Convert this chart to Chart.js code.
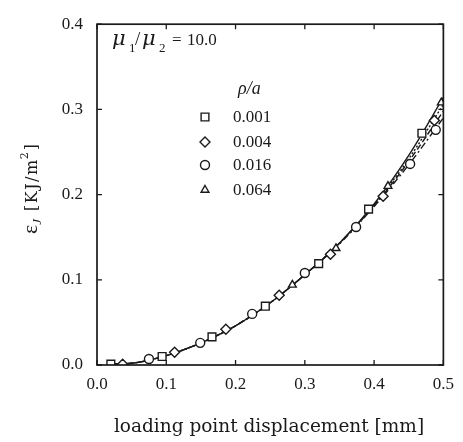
<!DOCTYPE html>
<html>
<head>
<meta charset="utf-8">
<script src="https://cdn.jsdelivr.net/npm/chart.js@4.4.0/dist/chart.umd.min.js"></script>
<style>
  body { margin: 0; background: #fff; }
  #wrap { width: 463px; height: 442px; }
</style>
</head>
<body>
<div id="wrap"><canvas id="myChart" width="463" height="442"></canvas></div>
<script>
// values
const ratioLabels = ['0.001', '0.004', '0.016', '0.064'];

const sqX = [0.020, 0.094, 0.166, 0.243, 0.320, 0.392, 0.469];
const sqY = [0.001, 0.010, 0.033, 0.069, 0.119, 0.183, 0.272];

const diaX = [0.037, 0.112, 0.186, 0.263, 0.337, 0.413, 0.487];
const diaY = [0.001, 0.015, 0.042, 0.082, 0.130, 0.198, 0.287];

const cirX = [0.075, 0.149, 0.224, 0.300, 0.374, 0.452, 0.489];
const cirY = [0.007, 0.026, 0.060, 0.108, 0.162, 0.236, 0.276];

const triX = [0.282, 0.345, 0.420, 0.497];
const triY = [0.094, 0.137, 0.210, 0.308];

// curves through the points
const curveX = [0.02, 0.05, 0.10, 0.15, 0.20, 0.25, 0.30, 0.35, 0.40, 0.45, 0.50];
const curveSolid   = [0.001, 0.002, 0.011, 0.026, 0.046, 0.073, 0.106, 0.143, 0.189, 0.246, 0.314];
const curveDotted  = [0.001, 0.002, 0.011, 0.026, 0.046, 0.073, 0.106, 0.143, 0.188, 0.242, 0.306];
const curveDashed  = [0.001, 0.002, 0.011, 0.026, 0.046, 0.073, 0.106, 0.143, 0.187, 0.239, 0.298];
const curveDashDot = [0.001, 0.002, 0.011, 0.026, 0.046, 0.073, 0.106, 0.142, 0.186, 0.235, 0.290];

const xTicks = [0.0, 0.1, 0.2, 0.3, 0.4, 0.5];
const yTicks = [0.0, 0.1, 0.2, 0.3, 0.4];

const ink = '#1a1a1a';
const serif = '"Liberation Serif", "Times New Roman", serif';
const wideSerif = '"DejaVu Serif", serif';

function pts(xs, ys) {
    return xs.map((x, i) => ({ x: x, y: ys[i] }));
}

function markerSet(label, xs, ys, style, r) {
    return {
        label: label,
        data: pts(xs, ys),
        showLine: false,
        pointStyle: style,
        pointRadius: r,
        pointBorderWidth: 1.4,
        pointBorderColor: ink,
        pointBackgroundColor: '#fff',
        order: 0
    };
}

function curveSet(ys, dash) {
    return {
        data: pts(curveX, ys),
        showLine: true,
        pointRadius: 0,
        borderColor: ink,
        borderWidth: 1.4,
        borderDash: dash,
        cubicInterpolationMode: 'monotone',
        order: 1
    };
}

const framePlugin = {
    id: 'frame',
    afterDraw(chart) {
        const ctx = chart.ctx;
        const a = chart.chartArea;
        const xs = chart.scales.x;
        const ys = chart.scales.y;
        ctx.save();
        ctx.strokeStyle = ink;
        ctx.lineWidth = 1.7;
        ctx.strokeRect(a.left, a.top, a.right - a.left, a.bottom - a.top);
        ctx.lineWidth = 1.3;
        ctx.beginPath();
        xTicks.forEach(v => {
            const px = xs.getPixelForValue(v);
            ctx.moveTo(px, a.bottom); ctx.lineTo(px, a.bottom - 5);
            ctx.moveTo(px, a.top); ctx.lineTo(px, a.top + 5);
        });
        yTicks.forEach(v => {
            const py = ys.getPixelForValue(v);
            ctx.moveTo(a.left, py); ctx.lineTo(a.left + 5, py);
            ctx.moveTo(a.right, py); ctx.lineTo(a.right - 5, py);
        });
        ctx.stroke();

        ctx.fillStyle = ink;
        ctx.textBaseline = 'alphabetic';

        // mu1/mu2 = 10.0
        const base = 45;
        ctx.font = 'italic 21px ' + wideSerif;
        ctx.fillText('\u03BC', 112, base);
        ctx.fillText('\u03BC', 142, base);
        ctx.font = '13px ' + serif;
        ctx.fillText('1', 129, base + 7);
        ctx.fillText('2', 159, base + 7);
        ctx.font = '19px ' + serif;
        ctx.fillText('/', 135, base);
        ctx.font = '17px ' + serif;
        ctx.fillText('=', 172, base);
        ctx.fillText('10.0', 187, base);

        // rho/a legend header and entries
        ctx.font = 'italic 18px ' + serif;
        ctx.fillText('\u03C1/a', 238, 94);
        const legendY = [117, 142, 165, 190];
        const styles = ['rect', 'rectRot', 'circle', 'triangle'];
        const radii = [5.5, 5, 4.5, 4.5];
        ctx.font = '17px ' + serif;
        ctx.textBaseline = 'middle';
        legendY.forEach((ly, i) => {
            ctx.lineWidth = 1.4;
            ctx.strokeStyle = ink;
            ctx.fillStyle = '#fff';
            Chart.helpers.drawPoint(ctx, { pointStyle: styles[i], radius: radii[i], borderWidth: 1.4 }, 205, ly);
            ctx.fillStyle = ink;
            ctx.fillText(ratioLabels[i], 233, ly + 1);
        });

        // x title
        ctx.textBaseline = 'alphabetic';
        ctx.textAlign = 'center';
        ctx.font = '18.5px ' + wideSerif;
        ctx.fillText('loading point displacement [mm]', 269, 432);

        // y title, rotated
        ctx.translate(37, 234);
        ctx.rotate(-Math.PI / 2);
        ctx.textAlign = 'left';
        let t = 0;
        ctx.font = '22px ' + serif;
        ctx.fillText('\u03B5', t, 0); t += ctx.measureText('\u03B5').width;
        ctx.font = 'italic 13px ' + serif;
        ctx.fillText('J', t, 4); t += ctx.measureText('J').width + 8;
        ctx.font = '16px ' + wideSerif;
        ctx.letterSpacing = '1.5px';
        ctx.fillText('[KJ/m', t, 0); t += ctx.measureText('[KJ/m').width;
        ctx.letterSpacing = '0px';
        ctx.font = '11px ' + wideSerif;
        ctx.fillText('2', t - 1, -9); t += ctx.measureText('2').width + 1;
        ctx.font = '16px ' + wideSerif;
        ctx.fillText(']', t, 0);
        ctx.restore();
    }
};

new Chart(document.getElementById('myChart').getContext('2d'), {
    type: 'scatter',
    data: {
        datasets: [
            markerSet(ratioLabels[0], sqX, sqY, 'rect', 5.5),
            markerSet(ratioLabels[1], diaX, diaY, 'rectRot', 5),
            markerSet(ratioLabels[2], cirX, cirY, 'circle', 4.5),
            markerSet(ratioLabels[3], triX, triY, 'triangle', 4.5),
            curveSet(curveSolid, []),
            curveSet(curveDotted, [2, 2]),
            curveSet(curveDashed, [6, 3]),
            curveSet(curveDashDot, [7, 3, 2, 3])
        ]
    },
    options: {
        responsive: false,
        animation: false,
        layout: { padding: { left: 0, top: 12, right: 14, bottom: 0 } },
        plugins: { legend: { display: false }, tooltip: { enabled: false } },
        scales: {
            x: {
                type: 'linear',
                min: 0, max: 0.5,
                grid: { display: false, drawTicks: false },
                border: { display: false },
                afterFit(scale) { scale.height = 77; },
                afterBuildTicks(scale) { scale.ticks = xTicks.map(v => ({ value: v })); },
                ticks: {
                    padding: 9,
                    color: ink,
                    font: { family: serif, size: 17 },
                    callback: v => Number(v).toFixed(1)
                }
            },
            y: {
                type: 'linear',
                min: 0, max: 0.4,
                grid: { display: false, drawTicks: false },
                border: { display: false },
                afterFit(scale) { scale.width = 97; },
                afterBuildTicks(scale) { scale.ticks = yTicks.map(v => ({ value: v })); },
                ticks: {
                    padding: 14,
                    color: ink,
                    font: { family: serif, size: 17 },
                    callback: v => Number(v).toFixed(1)
                }
            }
        }
    },
    plugins: [framePlugin]
});
</script>
</body>
</html>
